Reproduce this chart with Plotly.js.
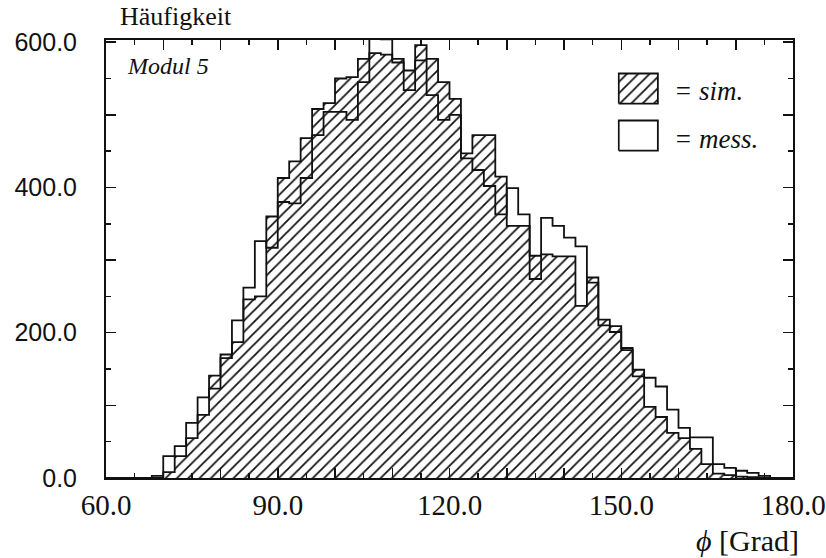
<!DOCTYPE html>
<html>
<head>
<meta charset="utf-8">
<script src="https://cdn.plot.ly/plotly-3.0.1.min.js"></script>
<style>
  html, body { margin: 0; padding: 0; background: #fff; }
  #chart { width: 826px; height: 558px; }
</style>
</head>
<body>
<div id="chart"></div>
<script>
// Histogram of the angle phi, module 5: simulation vs. measurement, 2-degree bins from 60 to 180.
const binStart = 60;
const binWidth = 2;

// counts per bin (60 bins)
const simCounts = [
  0, 0, 0, 0, 0, 8, 30, 55, 87, 141,
  170, 187, 246, 250, 360, 413, 436, 468, 508, 516,
  550, 552, 577, 585, 583, 577, 561, 596, 577, 545,
  522, 447, 472, 472, 415, 347, 347, 306, 308, 305,
  305, 237, 276, 218, 209, 179, 149, 98, 84, 62,
  55, 40, 19, 6, 4, 2, 1, 0, 0, 0
];
const messCounts = [
  0, 0, 0, 0, 3, 30, 44, 76, 111, 123,
  165, 217, 262, 326, 317, 380, 378, 413, 472, 504,
  504, 493, 545, 606, 604, 572, 534, 575, 527, 493,
  500, 440, 424, 402, 363, 399, 363, 274, 358, 347,
  331, 319, 269, 210, 201, 176, 140, 138, 126, 94,
  69, 56, 56, 19, 14, 10, 7, 3, 0, 0
];

// axis ticks
const xTickVals = [60, 70, 80, 90, 100, 110, 120, 130, 140, 150, 160, 170, 180];
const xTickText = ['60.0', '', '', '90.0', '', '', '120.0', '', '', '150.0', '', '', '180.0'];
const yTickVals = [0, 100, 200, 300, 400, 500, 600];
const yTickText = ['0.0', '', '200.0', '', '400.0', '', '600.0'];

// legend labels
const simLabel = '= sim.';
const messLabel = '= mess.';

// step outline: left bin edges plus the closing edge
function stepXY(counts) {
  const x = counts.map((_, i) => binStart + i * binWidth);
  x.push(binStart + counts.length * binWidth);
  const y = counts.slice();
  y.push(counts[counts.length - 1]);
  return { x, y };
}

const hatch = { shape: '/', fgcolor: '#111', bgcolor: '#fff', size: 8, solidity: 0.22 };
const ink = '#111';

const sim = stepXY(simCounts);
const mess = stepXY(messCounts);

const traces = [
  {
    type: 'scatter', mode: 'lines', x: sim.x, y: sim.y,
    line: { shape: 'hv', color: ink, width: 1.8 },
    fill: 'tozeroy', fillcolor: '#fff', fillpattern: hatch,
    hoverinfo: 'skip', showlegend: false
  },
  {
    type: 'scatter', mode: 'lines', x: mess.x, y: mess.y,
    line: { shape: 'hv', color: ink, width: 1.8 },
    hoverinfo: 'skip', showlegend: false
  },
  // legend keys in a small inset
  {
    type: 'scatter', mode: 'lines', xaxis: 'x2', yaxis: 'y2',
    x: [0, 1, 1, 0, 0], y: [0.61, 0.61, 1, 1, 0.61],
    line: { color: ink, width: 1.8 }, fill: 'toself', fillcolor: '#fff', fillpattern: hatch,
    hoverinfo: 'skip', showlegend: false
  },
  {
    type: 'scatter', mode: 'lines', xaxis: 'x2', yaxis: 'y2',
    x: [0, 1, 1, 0, 0], y: [0, 0, 0.39, 0.39, 0],
    line: { color: ink, width: 1.8 },
    hoverinfo: 'skip', showlegend: false
  }
];

const serif = 'Liberation Serif, Times New Roman, serif';
const sans = 'Liberation Sans, Arial, sans-serif';

const layout = {
  width: 826, height: 558,
  margin: { l: 106, r: 33, t: 40, b: 80 },
  paper_bgcolor: '#fff', plot_bgcolor: '#fff',
  showlegend: false,
  xaxis: {
    range: [60, 180], showgrid: false, zeroline: false,
    showline: true, linecolor: ink, linewidth: 2, mirror: 'ticks',
    ticks: 'inside', ticklen: 10, tickwidth: 1.5, tickcolor: ink,
    tickmode: 'array', tickvals: xTickVals, ticktext: xTickText,
    minor: { tickmode: 'linear', tick0: 60, dtick: 5, ticks: 'inside', ticklen: 5, tickwidth: 1.5, tickcolor: ink },
    tickfont: { family: serif, size: 29, color: ink },
    ticklabelstandoff: 0
  },
  yaxis: {
    range: [0, 603], showgrid: false, zeroline: false,
    showline: true, linecolor: ink, linewidth: 2, mirror: 'ticks',
    ticks: 'inside', ticklen: 10, tickwidth: 1.5, tickcolor: ink,
    tickmode: 'array', tickvals: yTickVals, ticktext: yTickText,
    minor: { tickmode: 'linear', tick0: 0, dtick: 50, ticks: 'inside', ticklen: 5, tickwidth: 1.5, tickcolor: ink },
    tickfont: { family: sans, size: 25, color: ink },
    ticklabelstandoff: 22
  },
  xaxis2: { domain: [0.7446, 0.805], range: [-0.03, 1.03], visible: false, anchor: 'y2', fixedrange: true },
  yaxis2: { domain: [0.744, 0.927], range: [-0.02, 1.02], visible: false, anchor: 'x2', fixedrange: true },
  annotations: [
    { text: 'Häufigkeit', xref: 'paper', yref: 'paper', x: 0.0175, y: 1.0536,
      xanchor: 'left', yanchor: 'middle', showarrow: false,
      font: { family: serif, size: 26, color: ink } },
    { text: '<i>Modul 5</i>', xref: 'paper', yref: 'paper', x: 0.027, y: 0.9396,
      xanchor: 'left', yanchor: 'middle', showarrow: false,
      font: { family: serif, size: 24, color: ink } },
    { text: '<i>' + simLabel + '</i>', xref: 'paper', yref: 'paper', x: 0.8234, y: 0.8826,
      xanchor: 'left', yanchor: 'middle', showarrow: false,
      font: { family: serif, size: 27, color: ink } },
    { text: '<i>' + messLabel + '</i>', xref: 'paper', yref: 'paper', x: 0.8234, y: 0.7747,
      xanchor: 'left', yanchor: 'middle', showarrow: false,
      font: { family: serif, size: 27, color: ink } },
    { text: '<i>ϕ</i> [Grad]', xref: 'paper', yref: 'paper', x: 1.012, y: -0.142,
      xanchor: 'right', yanchor: 'middle', showarrow: false,
      font: { family: serif, size: 30, color: ink } }
  ]
};

Plotly.newPlot('chart', traces, layout, { displayModeBar: false, staticPlot: true });
</script>
</body>
</html>
